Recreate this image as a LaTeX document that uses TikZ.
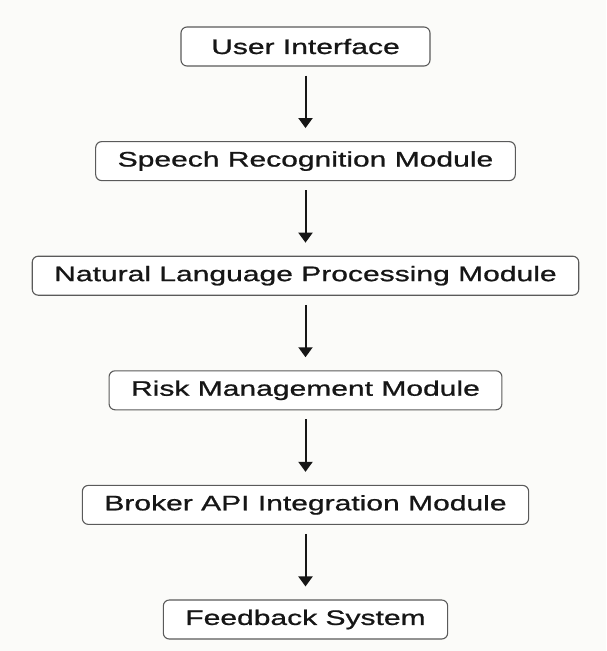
\documentclass[tikz,border=0pt]{standalone}
\usepackage{fontspec}
\setmainfont[FakeStretch=1.43,FakeBold=0.9]{Liberation Sans}
\usetikzlibrary{shapes,arrows.meta,positioning}
\definecolor{boxline}{HTML}{5A5A5A}
\definecolor{txt}{HTML}{161616}
\definecolor{paper}{HTML}{FBFBF9}
\tikzstyle{mod}=[rectangle,draw=boxline,line width=1.1pt,rounded corners=6pt,fill=white,align=center,inner xsep=22pt,minimum height=39pt,text=txt,font=\fontsize{21pt}{24pt}\selectfont]
\tikzstyle{arr}=[-{Triangle[width=14pt,length=10pt]},line width=2pt,txt,shorten <=9pt,shorten >=13pt]

\begin{document}
\begin{tikzpicture}[node distance=74.5pt]
\fill[paper] (0,0) rectangle (606pt,-651pt);
\useasboundingbox (0,0) rectangle (606pt,-651pt);
\node[mod,minimum width=249pt] (UI) at (305.5pt,-46.5pt) {User Interface};
\node[mod, below=of UI] (SR) {Speech Recognition Module};
\node[mod, below=of SR] (NLP) {Natural Language Processing Module};
\node[mod, below=of NLP] (RM) {Risk Management Module};
\node[mod, below=of RM] (BA) {Broker API Integration Module};
\node[mod, below=of BA] (FS) {Feedback System};
\draw[arr] (UI) -- (SR);
\draw[arr] (SR) -- (NLP);
\draw[arr] (NLP) -- (RM);
\draw[arr] (RM) -- (BA);
\draw[arr] (BA) -- (FS);
\end{tikzpicture}
\end{document}
